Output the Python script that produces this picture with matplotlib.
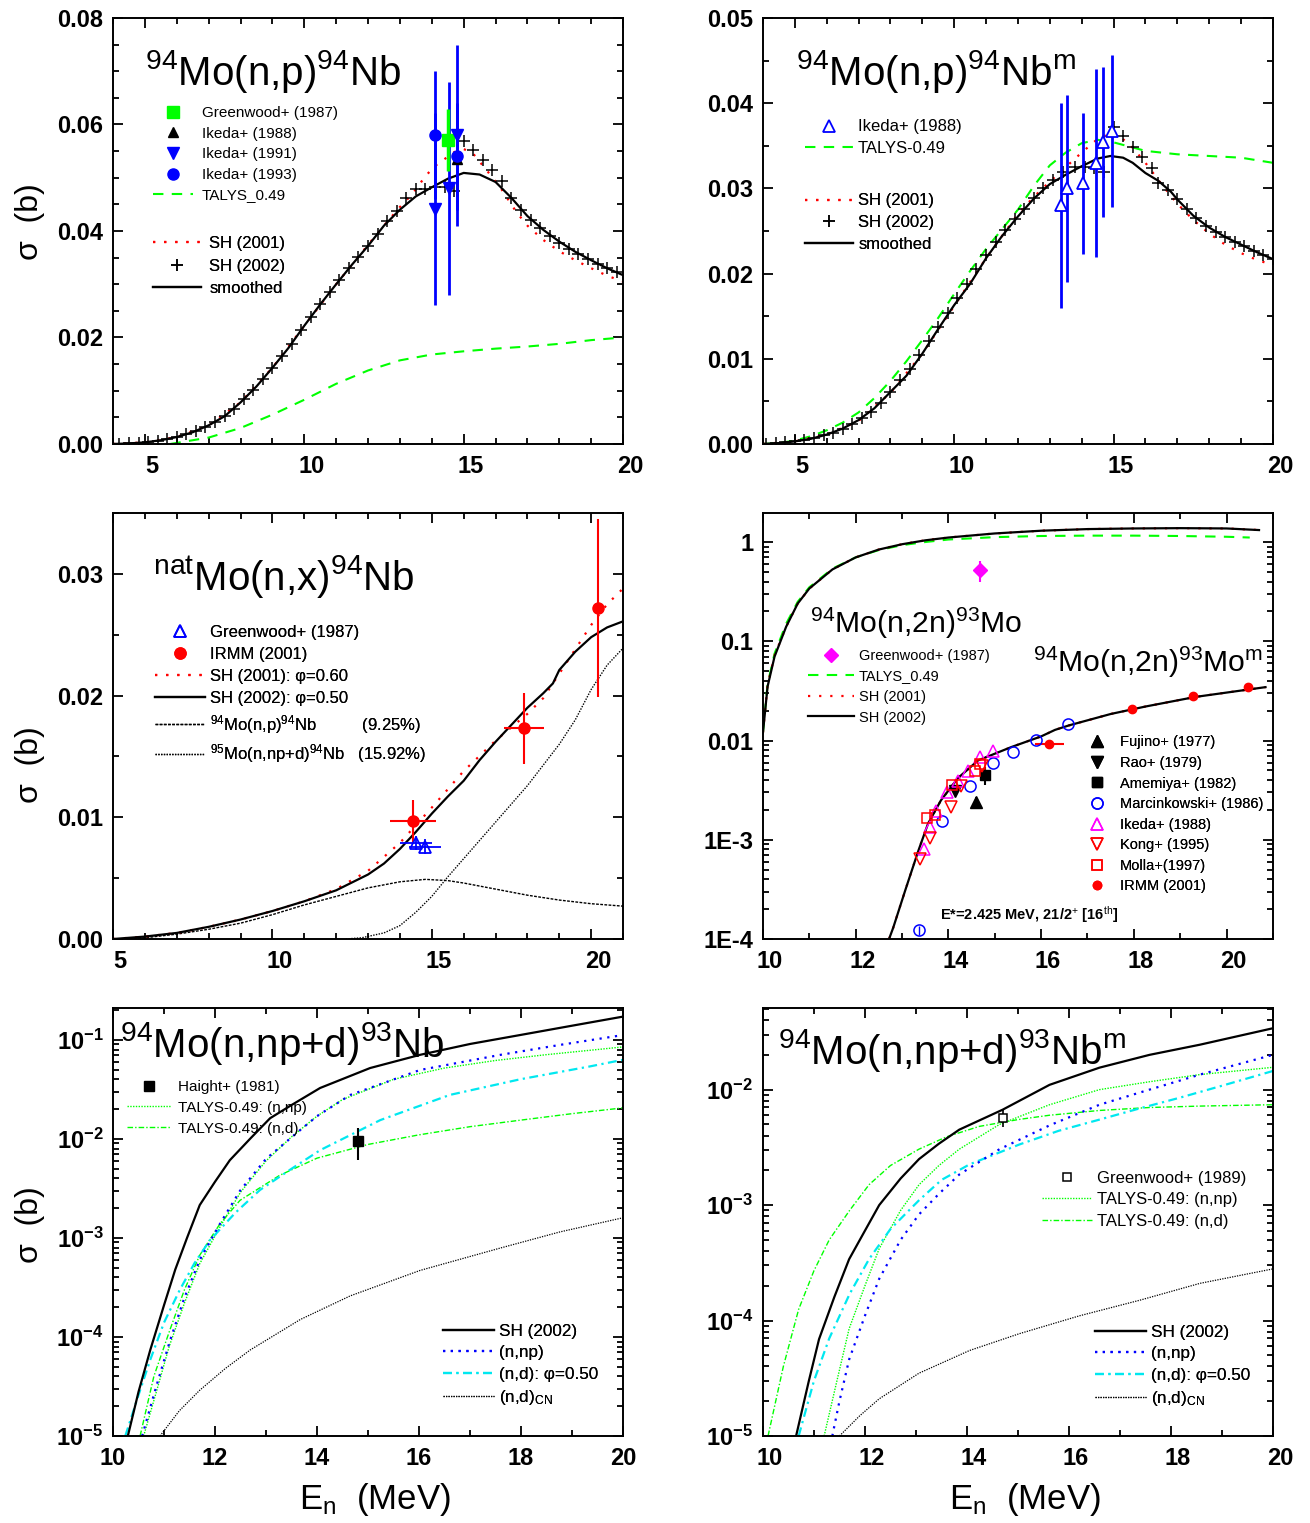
import numpy as np
import matplotlib
matplotlib.use('Agg')
import matplotlib.pyplot as plt
import matplotlib.transforms as mtransforms
from matplotlib.ticker import MultipleLocator, LogLocator, NullFormatter

plt.rcParams['font.family'] = 'Liberation Sans'
plt.rcParams['mathtext.fontset'] = 'custom'
plt.rcParams['mathtext.rm'] = 'Liberation Sans'
plt.rcParams['mathtext.it'] = 'Liberation Sans:italic'
plt.rcParams['mathtext.bf'] = 'Liberation Sans:bold'
plt.rcParams['axes.linewidth'] = 1.4

GREEN = '#00ff00'
BLUE = '#0000ff'
RED = '#ff0000'
MAG = '#ff00ff'
CYAN = '#00e8f0'

# ---------------- data: 94Mo(n,p)94Nb ----------------
tl_smooth_E = [4, 4.5, 5, 5.5, 6, 6.5, 7, 7.5, 8, 8.5, 9, 9.5, 10, 10.5, 11, 11.5, 12, 12.5,
               13, 13.5, 14, 14.5, 15, 15.5, 16, 16.5, 17, 17.5, 18, 18.5, 19, 19.5, 20]
tl_smooth = [0.0, 0.0001, 0.0003, 0.0007, 0.0013, 0.0022, 0.0035, 0.0052, 0.0078, 0.0108, 0.0143,
             0.0180, 0.0222, 0.0262, 0.0300, 0.0337, 0.0372, 0.0410, 0.0440, 0.0465, 0.0482,
             0.0498, 0.0509, 0.0506, 0.0492, 0.0462, 0.0428, 0.0402, 0.0380, 0.0361, 0.0345,
             0.0330, 0.0317]
tl_sh01_E = [4, 5, 6, 7, 8, 9, 10, 11, 12, 12.5, 13, 13.4, 13.8, 14.1, 14.4, 14.7, 15.0, 15.3,
             15.5, 15.7, 15.9, 16.1, 16.3, 16.5, 16.7, 17, 17.5, 18, 18.5, 19, 19.5, 20]
tl_sh01 = [0.0, 0.0003, 0.0013, 0.0035, 0.0078, 0.0143, 0.0222, 0.0300, 0.0374, 0.0410, 0.0445,
           0.0470, 0.0503, 0.0522, 0.0535, 0.0548, 0.0554, 0.0545, 0.0530, 0.0516, 0.0500,
           0.0486, 0.0468, 0.0449, 0.0432, 0.0410, 0.0383, 0.0362, 0.0345, 0.0330, 0.0316, 0.0305]
tl_sh02_E = [4.2, 4.5, 4.8, 5.1, 5.4, 5.7, 6.0, 6.3, 6.6, 6.9, 7.2, 7.5, 7.8, 8.1, 8.4, 8.7, 9.0,
             9.3, 9.6, 9.9, 10.2, 10.5, 10.8, 11.1, 11.4, 11.7, 12.0, 12.3, 12.6, 12.9, 13.2, 13.5,
             13.8, 14.1, 14.4, 14.7, 15.0, 15.3, 15.6, 15.9, 16.2, 16.5, 16.8, 17.1, 17.4, 17.7,
             18.0, 18.3, 18.6, 18.9, 19.2, 19.5, 19.8]
tl_sh02 = [0.0, 0.0001, 0.0002, 0.0003, 0.0006, 0.0009, 0.0013, 0.0018, 0.0024, 0.0032, 0.0041,
           0.0052, 0.0066, 0.0084, 0.0102, 0.0122, 0.0143, 0.0165, 0.0188, 0.0214, 0.0238,
           0.0262, 0.0285, 0.0307, 0.0330, 0.0351, 0.0372, 0.0395, 0.0418, 0.0437, 0.0462,
           0.0479, 0.0479, 0.0483, 0.0483, 0.0475, 0.0569, 0.0552, 0.0533, 0.0515, 0.0494,
           0.0462, 0.0440, 0.0421, 0.0405, 0.0391, 0.0378, 0.0367, 0.0356, 0.0347, 0.0338,
           0.0330, 0.0322]
tl_talys_E = [5.8, 6, 7, 8, 9, 10, 11, 12, 13, 14, 15, 16, 17, 18, 19, 20]
tl_talys = [0.0, 0.0002, 0.0012, 0.0030, 0.0055, 0.0083, 0.0113, 0.0138, 0.0157, 0.0168,
            0.0174, 0.0179, 0.0183, 0.0188, 0.0195, 0.0200]
tl_gw87_E, tl_gw87, tl_gw87_err = [14.5], [0.0571], [0.0058]
tl_ik88_E, tl_ik88 = [14.8], [0.0535]
tl_ik91_E, tl_ik91, tl_ik91_err = [14.1, 14.53, 14.8], [0.0441, 0.0480, 0.0580], [0.018, 0.020, 0.017]
tl_ik93_E, tl_ik93, tl_ik93_err = [14.1, 14.8], [0.0580, 0.0540], [0.012, 0.010]

# ---------------- data: 94Mo(n,p)94Nbm ----------------
tr_smooth_E = [4, 4.5, 5, 5.5, 6, 6.5, 7, 7.5, 8, 8.5, 9, 9.5, 10, 10.5, 11, 11.5, 12, 12.5, 13,
               13.5, 14, 14.5, 14.9, 15.3, 15.6, 16, 16.4, 16.8, 17, 17.5, 18, 18.5, 19, 19.5, 20]
tr_smooth = [0.0, 0.0001, 0.0003, 0.0006, 0.0011, 0.0018, 0.0028, 0.0042, 0.0061, 0.0080, 0.0106,
             0.0135, 0.0163, 0.0188, 0.0218, 0.0244, 0.0267, 0.0288, 0.0305, 0.0316, 0.0326,
             0.0335, 0.0338, 0.0336, 0.0330, 0.0318, 0.0309, 0.0296, 0.0287, 0.0268, 0.0254,
             0.0243, 0.0234, 0.0225, 0.0217]
tr_sh01_E = [4, 5, 6, 7, 8, 9, 10, 11, 12, 12.5, 13, 13.5, 14, 14.5, 15, 15.5, 16, 16.5, 17,
             17.5, 18, 18.5, 19, 19.5, 20]
tr_sh01 = [0.0, 0.0003, 0.0011, 0.0027, 0.0060, 0.0106, 0.0162, 0.0218, 0.0270, 0.0290, 0.0308,
           0.0325, 0.0342, 0.0358, 0.0366, 0.0352, 0.0330, 0.0305, 0.0282, 0.0263, 0.0247,
           0.0234, 0.0224, 0.0216, 0.0210]
tr_sh02_E = [4.1, 4.4, 4.7, 5.0, 5.3, 5.6, 5.9, 6.2, 6.5, 6.8, 7.1, 7.4, 7.7, 8.0, 8.3, 8.6, 8.9,
             9.2, 9.5, 9.8, 10.1, 10.4, 10.7, 11.0, 11.3, 11.6, 11.9, 12.2, 12.5, 12.8, 13.1,
             13.4, 13.8, 14.1, 14.4, 14.7, 15.0, 15.3, 15.6, 15.9, 16.2, 16.4, 16.7, 17.0, 17.3,
             17.6, 17.9, 18.2, 18.5, 18.8, 19.1, 19.4, 19.7, 20.0]
tr_sh02 = [0.0, 0.0001, 0.0002, 0.0003, 0.0005, 0.0007, 0.0010, 0.0013, 0.0018, 0.0024, 0.0030,
           0.0038, 0.0048, 0.0061, 0.0075, 0.0088, 0.0104, 0.0121, 0.0137, 0.0154, 0.0171,
           0.0188, 0.0205, 0.0222, 0.0237, 0.0251, 0.0264, 0.0276, 0.0289, 0.0300, 0.0310,
           0.0319, 0.0325, 0.0325, 0.0324, 0.0319, 0.0372, 0.0361, 0.0349, 0.0337, 0.0324,
           0.0306, 0.0298, 0.0287, 0.0276, 0.0265, 0.0256, 0.0249, 0.0243, 0.0237, 0.0232,
           0.0227, 0.0222, 0.0217]
tr_talys_E = [4, 4.5, 5, 5.5, 6, 6.5, 7, 7.5, 8, 8.5, 9, 9.5, 10, 10.5, 11, 11.5, 12, 12.5, 13,
              13.5, 14, 14.5, 15, 15.5, 16, 17, 18, 19, 20]
tr_talys = [0.0, 0.0001, 0.0004, 0.0009, 0.0016, 0.0025, 0.0037, 0.0054, 0.0074, 0.0097, 0.0122,
            0.0148, 0.0176, 0.0203, 0.0229, 0.0252, 0.0275, 0.0303, 0.0327, 0.0342, 0.0353,
            0.0357, 0.0354, 0.0349, 0.0344, 0.0340, 0.0338, 0.0336, 0.0330]
tr_ik88_E = [13.34, 13.53, 14.03, 14.44, 14.66, 14.94]
tr_ik88 = [0.0280, 0.0300, 0.0306, 0.0330, 0.0354, 0.0367]
tr_ik88_err = [0.0120, 0.0110, 0.0083, 0.0110, 0.0088, 0.0089]

# ---------------- data: natMo(n,x)94Nb ----------------
ml_sh02_E = [5, 6, 7, 8, 9, 10, 11, 12, 13, 13.5, 14, 14.5, 15, 15.5, 16, 16.5, 17, 17.5, 18,
             18.5, 18.8, 19, 19.5, 20, 20.5, 21]
ml_sh02 = [0.0, 0.0002, 0.0005, 0.0010, 0.0016, 0.0023, 0.0031, 0.0040, 0.0053, 0.0062, 0.0074,
           0.0088, 0.0103, 0.0117, 0.0130, 0.0147, 0.0162, 0.0176, 0.0190, 0.0202, 0.0210,
           0.0221, 0.0236, 0.0248, 0.0256, 0.0261]
ml_sh01_E = [5, 6, 7, 8, 9, 10, 11, 12, 13, 14, 15, 16, 17, 18, 18.5, 19, 19.5, 20, 20.5, 21]
ml_sh01 = [0.0, 0.0002, 0.0005, 0.0010, 0.0016, 0.0023, 0.0031, 0.0041, 0.0056, 0.0079, 0.0108,
           0.0138, 0.0163, 0.0185, 0.0198, 0.0218, 0.0238, 0.0258, 0.0275, 0.0288]
ml_np_E = [5, 6, 7, 8, 9, 10, 11, 12, 13, 14, 14.8, 15.5, 16, 17, 18, 19, 20, 21]
ml_np = [0.0, 0.0001, 0.0004, 0.0008, 0.0013, 0.0020, 0.0028, 0.0035, 0.0042, 0.0047, 0.0049,
         0.0048, 0.0046, 0.0041, 0.0036, 0.0032, 0.0029, 0.0027]
ml_npd_E = [12.3, 12.8, 13.5, 14, 14.5, 15, 15.5, 16, 17, 18, 19, 19.5, 20, 20.5, 21]
ml_npd = [0.0, 0.0001, 0.0005, 0.0011, 0.0022, 0.0035, 0.0051, 0.0066, 0.0096, 0.0126, 0.0160,
          0.0180, 0.0205, 0.0225, 0.0239]
ml_gw87_E, ml_gw87 = [14.5, 14.8], [0.0079, 0.0076]
ml_irmm_E, ml_irmm = [14.4, 17.9, 20.2], [0.0097, 0.0173, 0.0272]
ml_irmm_xerr, ml_irmm_yerr = [0.72, 0.63, 0.15], [0.0017, 0.0029, 0.0073]

# ---------------- data: 94Mo(n,2n)93Mo and 93Mom ----------------
mr_tot_E = [10.0, 10.1, 10.25, 10.5, 10.75, 11.0, 11.5, 12, 12.5, 13, 13.5, 14, 15, 16, 17, 18,
            19, 20, 20.7]
mr_tot = [0.012, 0.035, 0.070, 0.14, 0.24, 0.34, 0.53, 0.70, 0.84, 0.95, 1.04, 1.11, 1.22, 1.30,
          1.35, 1.37, 1.38, 1.37, 1.32]
mr_tot01 = [0.012, 0.036, 0.072, 0.14, 0.24, 0.34, 0.53, 0.70, 0.84, 0.95, 1.04, 1.11, 1.22,
            1.30, 1.35, 1.37, 1.38, 1.37, 1.32]
mr_talys_E = [10.0, 10.1, 10.25, 10.5, 10.75, 11, 11.5, 12, 12.5, 13, 13.5, 14, 15, 16, 17, 18,
              19, 20, 20.5]
mr_talys = [0.012, 0.037, 0.075, 0.15, 0.25, 0.35, 0.54, 0.70, 0.83, 0.93, 1.00, 1.06, 1.12,
            1.15, 1.16, 1.16, 1.15, 1.13, 1.11]
mr_iso_E = [12.72, 12.81, 13.07, 13.35, 13.56, 13.84, 14.21, 14.64, 15.36, 16.0, 16.3, 16.6,
            17.5, 18.25, 19.33, 20.84]
mr_iso = [1.0e-4, 1.3e-4, 3.1e-4, 7.7e-4, 1.45e-3, 2.5e-3, 4.2e-3, 6.3e-3, 8.6e-3, 1.1e-2,
          1.28e-2, 1.42e-2, 1.85e-2, 2.2e-2, 2.75e-2, 3.45e-2]
mr_gw87_E, mr_gw87, mr_gw87_err = [14.69], [0.52], [0.12]
fujino_E, fujino, fujino_err = [14.59], [2.4e-3], [0.3e-3]
rao_E, rao = [14.14], [3.1e-3]
amemiya_E, amemiya, amemiya_err = [14.79], [4.5e-3], [0.9e-3]
marc_E = [13.37, 13.87, 14.47, 14.97, 15.39, 15.88, 16.57]
marc = [1.23e-4, 1.53e-3, 3.5e-3, 6.0e-3, 7.7e-3, 1.02e-2, 1.47e-2]
ik88_E = [13.48, 13.60, 13.74, 13.96, 14.21, 14.43, 14.68, 14.97]
ik88 = [8.1e-4, 1.33e-3, 1.96e-3, 3.0e-3, 3.95e-3, 4.98e-3, 6.8e-3, 7.9e-3]
kong_E = [13.38, 13.60, 14.05, 14.27, 14.73]
kong = [6.4e-4, 1.05e-3, 2.15e-3, 3.5e-3, 5.6e-3]
molla_E = [13.54, 13.71, 14.07, 14.57, 14.68]
molla = [1.64e-3, 1.79e-3, 3.6e-3, 4.98e-3, 5.8e-3]
irmm_E, irmm, irmm_xerr = [16.18, 17.97, 19.27, 20.47], [9.3e-3, 2.1e-2, 2.79e-2, 3.5e-2], [0.32, 0.0, 0.0, 0.0]

# ---------------- data: 94Mo(n,np+d)93Nb ----------------
bl_sh_E = [10.29, 10.5, 10.73, 11.0, 11.22, 11.45, 11.7, 12.0, 12.29, 12.7, 13.08, 13.5, 14.06,
           15.04, 16.02, 17.0, 17.98, 18.96, 20.0]
bl_sh = [1e-5, 2.8e-5, 7.4e-5, 2.1e-4, 4.8e-4, 1.0e-3, 2.15e-3, 3.7e-3, 6.1e-3, 1.02e-2, 1.62e-2,
         2.2e-2, 3.27e-2, 5.2e-2, 7.07e-2, 9.1e-2, 0.112, 0.138, 0.172]
bl_np_E = [10.57, 10.85, 11.12, 11.4, 11.7, 12.1, 12.49, 13.0, 13.67, 14.0, 14.65, 16.02, 17.59,
           18.76, 20.0]
bl_np = [1e-5, 3.2e-5, 9.3e-5, 2.5e-4, 6e-4, 1.4e-3, 3e-3, 6.3e-3, 1.23e-2, 1.7e-2, 2.78e-2,
         4.97e-2, 7.06e-2, 8.9e-2, 0.112]
bl_tnp_E = [10.6, 10.85, 11.1, 11.4, 11.7, 12.1, 12.5, 13.0, 13.5, 14.0, 14.5, 15.5, 16.5, 17.5,
            18.5, 19.5, 20.0]
bl_tnp = [1e-5, 2.8e-5, 8e-5, 2.2e-4, 5.5e-4, 1.3e-3, 2.9e-3, 6e-3, 1.05e-2, 1.7e-2, 2.5e-2,
          4.0e-2, 5.2e-2, 6.2e-2, 7.1e-2, 8.0e-2, 8.5e-2]
bl_nd_E = [10.24, 10.5, 10.73, 11.0, 11.31, 11.6, 11.9, 12.4, 12.88, 13.5, 14.06, 15.24, 16.6,
           17.98, 19.35, 20.0]
bl_nd = [1e-5, 2.6e-5, 5.9e-5, 1.4e-4, 3e-4, 5.6e-4, 9.5e-4, 1.8e-3, 3.05e-3, 5e-3, 7.7e-3,
         1.55e-2, 2.78e-2, 4.0e-2, 5.4e-2, 6.3e-2]
bl_tnd_E = [10.53, 10.8, 11.12, 11.4, 11.7, 12.1, 12.49, 13.27, 14.0, 15.0, 16.0, 17.0, 18.0,
            19.0, 20.0]
bl_tnd = [1e-5, 4e-5, 1.2e-4, 3e-4, 6.7e-4, 1.4e-3, 2.4e-3, 4.3e-3, 6.4e-3, 8.8e-3, 1.1e-2,
          1.33e-2, 1.55e-2, 1.8e-2, 2.06e-2]
bl_cn_E = [10.92, 11.3, 11.7, 12.2, 12.69, 13.67, 14.65, 16.02, 17.59, 18.76, 20.0]
bl_cn = [1e-5, 1.8e-5, 2.9e-5, 4.8e-5, 7.4e-5, 1.5e-4, 2.6e-4, 4.7e-4, 7.9e-4, 1.15e-3, 1.6e-3]
haight_E, haight, haight_err = [14.8], [9.5e-3], [3.4e-3]

# ---------------- data: 94Mo(n,np+d)93Nbm ----------------
br_sh_E = [10.65, 10.9, 11.1, 11.4, 11.69, 12.0, 12.28, 12.7, 13.06, 13.45, 13.85, 14.7, 15.62,
           16.6, 17.58, 18.57, 20.0]
br_sh = [1e-5, 3e-5, 6.9e-5, 1.6e-4, 3.4e-4, 6.0e-4, 1.0e-3, 1.7e-3, 2.5e-3, 3.4e-3, 4.5e-3,
         6.7e-3, 1.1e-2, 1.55e-2, 2.0e-2, 2.45e-2, 3.4e-2]
br_np_E = [11.36, 11.5, 11.69, 12.0, 12.28, 12.7, 13.06, 13.45, 13.85, 14.64, 15.62, 16.6, 17.58,
           18.57, 20.0]
br_np = [1e-5, 2e-5, 4.6e-5, 1.1e-4, 2.3e-4, 5.0e-4, 8.3e-4, 1.25e-3, 1.84e-3, 3.05e-3, 4.9e-3,
         7.4e-3, 1.0e-2, 1.35e-2, 2.0e-2]
br_tnp_E = [11.2, 11.45, 11.69, 12.0, 12.28, 12.7, 13.06, 13.45, 13.85, 14.64, 15.62, 16.6,
            17.58, 18.57, 20.0]
br_tnp = [1e-5, 3e-5, 8.5e-5, 2.0e-4, 4.2e-4, 9e-4, 1.5e-3, 2.2e-3, 3.05e-3, 5.0e-3, 7.4e-3,
          1.0e-2, 1.17e-2, 1.35e-2, 1.56e-2]
br_tnd_E = [10.1, 10.4, 10.7, 11.0, 11.3, 11.7, 12.08, 12.5, 13.06, 13.6, 14.24, 15.0, 15.62,
            16.6, 17.58, 18.57, 20.0]
br_tnd = [1e-5, 4e-5, 1.25e-4, 2.7e-4, 5e-4, 9e-4, 1.5e-3, 2.2e-3, 3.05e-3, 3.9e-3, 4.8e-3,
          5.5e-3, 6.0e-3, 6.6e-3, 7.0e-3, 7.2e-3, 7.4e-3]
br_nd_E = [10.7, 11.0, 11.3, 11.7, 12.08, 12.5, 13.06, 13.5, 14.05, 15.03, 15.8, 16.6, 17.4,
           18.17, 19.0, 20.0]
br_nd = [1e-5, 3e-5, 7e-5, 1.7e-4, 3.4e-4, 6.2e-4, 1.1e-3, 1.65e-3, 2.25e-3, 3.35e-3, 4.4e-3,
         5.5e-3, 6.9e-3, 8.5e-3, 1.08e-2, 1.45e-2]
br_cn_E = [11.5, 11.9, 12.28, 13.06, 14.05, 15.03, 16.21, 17.39, 18.57, 20.0]
br_cn = [1e-5, 1.5e-5, 2.1e-5, 3.5e-5, 5.5e-5, 7.7e-5, 1.1e-4, 1.5e-4, 2.1e-4, 2.8e-4]
gw89_E, gw89, gw89_err = [14.7], [5.7e-3], [1.0e-3]


def frame(ax, xlim, xticks, ylim, yticks=None, ylabels=None, log=False, shift=7):
    ax.set_xlim(*xlim)
    ax.set_xticks(xticks, [str(v) for v in xticks], fontweight='bold', fontsize=17)
    ax.xaxis.set_minor_locator(MultipleLocator(1))
    if log:
        ax.set_yscale('log')
        ax.yaxis.set_minor_locator(LogLocator(base=10, subs=np.arange(2, 10)))
        ax.yaxis.set_minor_formatter(NullFormatter())
    ax.set_ylim(*ylim)
    if yticks is not None:
        ax.set_yticks(yticks, ylabels, fontweight='bold', fontsize=17)
    ax.tick_params(which='both', direction='in', top=True, right=True, width=1.3)
    ax.tick_params(axis='x', pad=8)
    ax.tick_params(axis='y', pad=7)
    ax.tick_params(which='major', length=7)
    ax.tick_params(which='minor', length=4)
    # the x labels of the original sit a few pixels right of their ticks
    if shift:
        off = mtransforms.ScaledTranslation(shift / 100, 0, ax.figure.dpi_scale_trans)
        for lab in ax.get_xticklabels():
            lab.set_transform(lab.get_transform() + off)


def legend(ax, handles, x, y, fs=11, hl=2.6, tp=0.6, ls=0.45):
    leg = ax.legend(handles=handles, loc='upper left', bbox_to_anchor=(x, y), frameon=False,
                    fontsize=fs, handlelength=hl, handletextpad=tp, labelspacing=ls,
                    borderpad=0, borderaxespad=0)
    ax.add_artist(leg)
    return leg


fig = plt.figure(figsize=(13.1, 15.23), dpi=100)
L, R, W = 0.0863, 0.5824, 0.3893

# ---- 94Mo(n,p)94Nb ----
ax = fig.add_axes([L, 0.7085, W, 0.2797])
h_talys, = ax.plot(tl_talys_E, tl_talys, color=GREEN, lw=1.5, ls=(0, (5, 4)), label='TALYS_0.49')
h_sh01, = ax.plot(tl_sh01_E, tl_sh01, color=RED, lw=1.6, ls=(0, (1, 4)), label='SH (2001)')
h_sh02, = ax.plot(tl_sh02_E, tl_sh02, 'k+', ms=8, mew=1.1, label='SH (2002)')
h_sm, = ax.plot(tl_smooth_E, tl_smooth, 'k-', lw=1.6, label='smoothed')
ax.errorbar(tl_ik91_E, tl_ik91, yerr=tl_ik91_err, fmt='none', ecolor=BLUE, elinewidth=2)
ax.errorbar(tl_ik93_E, tl_ik93, yerr=tl_ik93_err, fmt='none', ecolor=BLUE, elinewidth=2)
ax.errorbar(tl_gw87_E, tl_gw87, yerr=tl_gw87_err, fmt='none', ecolor=GREEN, elinewidth=2.5)
h1, = ax.plot(tl_gw87_E, tl_gw87, 's', color=GREEN, ms=8, label='Greenwood+ (1987)')
h2, = ax.plot(tl_ik88_E, tl_ik88, '^', color='k', ms=7, label='Ikeda+ (1988)')
h3, = ax.plot(tl_ik91_E, tl_ik91, 'v', color=BLUE, ms=8, label='Ikeda+ (1991)')
h4, = ax.plot(tl_ik93_E, tl_ik93, 'o', color=BLUE, ms=8, label='Ikeda+ (1993)')
frame(ax, (4, 20), [5, 10, 15, 20], (0, 0.08), [0, 0.02, 0.04, 0.06, 0.08],
      ['0.00', '0.02', '0.04', '0.06', '0.08'])
ax.yaxis.set_minor_locator(MultipleLocator(0.005))
legend(ax, [h1, h2, h3, h4, h_talys], 0.078, 0.793, ls=0.43)
legend(ax, [h_sh01, h_sh02, h_sm], 0.078, 0.488, fs=12, hl=2.9, tp=0.5, ls=0.45)
ax.text(0.063, 0.843, r'$^{94}$Mo(n,p)$^{94}$Nb', transform=ax.transAxes, fontsize=29,
        va='baseline')

# ---- 94Mo(n,p)94Nbm ----
ax = fig.add_axes([R, 0.7085, W, 0.2797])
h_talys, = ax.plot(tr_talys_E, tr_talys, color=GREEN, lw=1.5, ls=(0, (5, 4)), label='TALYS-0.49')
h_sh01, = ax.plot(tr_sh01_E, tr_sh01, color=RED, lw=1.6, ls=(0, (1, 4)), label='SH (2001)')
h_sh02, = ax.plot(tr_sh02_E, tr_sh02, 'k+', ms=8, mew=1.1, label='SH (2002)')
h_sm, = ax.plot(tr_smooth_E, tr_smooth, 'k-', lw=1.6, label='smoothed')
ax.errorbar(tr_ik88_E, tr_ik88, yerr=tr_ik88_err, fmt='none', ecolor=BLUE, elinewidth=2)
h1, = ax.plot(tr_ik88_E, tr_ik88, '^', mfc='white', mec=BLUE, mew=1.3, ms=9, label='Ikeda+ (1988)')
frame(ax, (4, 20), [5, 10, 15, 20], (0, 0.05), [0, 0.01, 0.02, 0.03, 0.04, 0.05],
      ['0.00', '0.01', '0.02', '0.03', '0.04', '0.05'])
ax.yaxis.set_minor_locator(MultipleLocator(0.005))
legend(ax, [h1, h_talys], 0.082, 0.762, fs=12, hl=2.9, tp=0.3, ls=0.4)
legend(ax, [h_sh01, h_sh02, h_sm], 0.082, 0.588, fs=12, hl=2.9, tp=0.3, ls=0.4)
ax.text(0.065, 0.843, r'$^{94}$Mo(n,p)$^{94}$Nb$^{\rm m}$', transform=ax.transAxes,
        fontsize=29, va='baseline')

# ---- natMo(n,x)94Nb ----
ax = fig.add_axes([L, 0.38345, W, 0.2797])
h5, = ax.plot(ml_np_E, ml_np, color='k', lw=1.0, ls=(0, (2, 1)),
              label=r'$^{94}$Mo(n,p)$^{94}$Nb          (9.25%)')
h6, = ax.plot(ml_npd_E, ml_npd, color='k', lw=1.0, ls=(0, (1, 1)),
              label=r'$^{95}$Mo(n,np+d)$^{94}$Nb   (15.92%)')
h3, = ax.plot(ml_sh01_E, ml_sh01, color=RED, lw=1.6, ls=(0, (1, 4)), label='SH (2001): φ=0.60')
h4, = ax.plot(ml_sh02_E, ml_sh02, 'k-', lw=1.6, label='SH (2002): φ=0.50')
ax.errorbar(ml_gw87_E, ml_gw87, xerr=0.5, yerr=0.0006, fmt='none', ecolor=BLUE, elinewidth=1.3)
ax.errorbar(ml_irmm_E, ml_irmm, xerr=ml_irmm_xerr, yerr=ml_irmm_yerr, fmt='none', ecolor=RED,
            elinewidth=1.5)
h1, = ax.plot(ml_gw87_E, ml_gw87, '^', mfc='none', mec=BLUE, mew=1.3, ms=9, label='Greenwood+ (1987)')
h2, = ax.plot(ml_irmm_E, ml_irmm, 'o', color=RED, ms=8, label='IRMM (2001)')
frame(ax, (5, 21), [5, 10, 15, 20], (0, 0.035), [0, 0.01, 0.02, 0.03],
      ['0.00', '0.01', '0.02', '0.03'])
ax.yaxis.set_minor_locator(MultipleLocator(0.005))
legend(ax, [h1, h2, h3, h4, h5, h6], 0.082, 0.738, fs=12, hl=3.0, tp=0.3, ls=0.42)
ax.text(0.078, 0.819, r'$^{\rm nat}$Mo(n,x)$^{94}$Nb', transform=ax.transAxes, fontsize=29,
        va='baseline')

# ---- 94Mo(n,2n)93Mo ----
ax = fig.add_axes([R, 0.38345, W, 0.2797])
h_talys, = ax.plot(mr_talys_E, mr_talys, color=GREEN, lw=1.5, ls=(0, (5, 4)), label='TALYS_0.49')
h_sh01, = ax.plot(mr_tot_E, mr_tot01, color=RED, lw=1.6, ls=(0, (1, 4)), label='SH (2001)')
h_sh02, = ax.plot(mr_tot_E, mr_tot, 'k-', lw=1.6, label='SH (2002)')
ax.plot(mr_iso_E, mr_iso, color=RED, lw=1.6, ls=(0, (1, 4)))
ax.plot(mr_iso_E, mr_iso, 'k-', lw=1.6)
ax.errorbar(mr_gw87_E, mr_gw87, yerr=mr_gw87_err, fmt='none', ecolor=MAG, elinewidth=1.5)
hg, = ax.plot(mr_gw87_E, mr_gw87, 'D', color=MAG, ms=7, label='Greenwood+ (1987)')
ax.errorbar(fujino_E, fujino, yerr=fujino_err, fmt='none', ecolor='k', elinewidth=1.2)
ax.errorbar(amemiya_E, amemiya, yerr=amemiya_err, fmt='none', ecolor='k', elinewidth=1.5)
ax.errorbar(irmm_E, irmm, xerr=irmm_xerr, fmt='none', ecolor=RED, elinewidth=1.5)
ax.errorbar([marc_E[0]], [marc[0]], yerr=[1.2e-5], fmt='none', ecolor=BLUE, elinewidth=1)
e1, = ax.plot(fujino_E, fujino, '^', color='k', ms=8, label='Fujino+ (1977)')
e2, = ax.plot(rao_E, rao, 'v', color='k', ms=8, label='Rao+ (1979)')
e3, = ax.plot(amemiya_E, amemiya, 's', color='k', ms=7, label='Amemiya+ (1982)')
e4, = ax.plot(marc_E, marc, 'o', mfc='none', mec=BLUE, mew=1.1, ms=8, label='Marcinkowski+ (1986)')
e5, = ax.plot(ik88_E, ik88, '^', mfc='none', mec=MAG, mew=1.1, ms=8, label='Ikeda+ (1988)')
e6, = ax.plot(kong_E, kong, 'v', mfc='none', mec=RED, mew=1.1, ms=8, label='Kong+ (1995)')
e7, = ax.plot(molla_E, molla, 's', mfc='none', mec=RED, mew=1.1, ms=7, label='Molla+(1997)')
e8, = ax.plot(irmm_E, irmm, 'o', color=RED, ms=6, label='IRMM (2001)')
frame(ax, (10, 21), [10, 12, 14, 16, 18, 20], (1e-4, 1.96), [1e-4, 1e-3, 1e-2, 0.1, 1],
      ['1E-4', '1E-3', '0.01', '0.1', '1'], log=True)
legend(ax, [hg, h_talys, h_sh01, h_sh02], 0.088, 0.681, fs=10.5, hl=3.2, tp=0.3, ls=0.45)
legend(ax, [e1, e2, e3, e4, e5, e6, e7, e8], 0.637, 0.478, fs=10.5, hl=1.2, tp=1.0, ls=0.45)
ax.text(0.092, 0.718, r'$^{94}$Mo(n,2n)$^{93}$Mo', transform=ax.transAxes, fontsize=21.7,
        va='baseline')
ax.text(0.529, 0.627, r'$^{94}$Mo(n,2n)$^{93}$Mo$^{\rm m}$', transform=ax.transAxes,
        fontsize=21.7, va='baseline')
ax.text(0.347, 0.045, 'E*=2.425 MeV, 21/2$^{+}$ [16$^{\\rm th}$]', transform=ax.transAxes,
        fontsize=10.5, fontweight='bold', va='baseline')

log_labels = [r'$\mathbf{10^{-5}}$', r'$\mathbf{10^{-4}}$', r'$\mathbf{10^{-3}}$',
              r'$\mathbf{10^{-2}}$', r'$\mathbf{10^{-1}}$']
log_ticks = [1e-5, 1e-4, 1e-3, 1e-2, 1e-1]

# ---- 94Mo(n,np+d)93Nb ----
ax = fig.add_axes([L, 0.05712, W, 0.28102])
t1, = ax.plot(bl_tnp_E, bl_tnp, color=GREEN, lw=1.0, ls=(0, (1, 1)), label='TALYS-0.49: (n,np)')
t2, = ax.plot(bl_tnd_E, bl_tnd, color=GREEN, lw=1.0, ls=(0, (4, 1.5, 1, 1.5)),
              label='TALYS-0.49: (n,d)')
s4, = ax.plot(bl_cn_E, bl_cn, color='k', lw=0.9, ls=(0, (1, 1)), label='(n,d)$_{\\rm CN}$')
s3, = ax.plot(bl_nd_E, bl_nd, color=CYAN, lw=1.6, ls=(0, (4, 2, 1, 2)), label='(n,d): φ=0.50')
s2, = ax.plot(bl_np_E, bl_np, color=BLUE, lw=1.6, ls=(0, (1, 2.5)), label='(n,np)')
s1, = ax.plot(bl_sh_E, bl_sh, 'k-', lw=1.6, label='SH (2002)')
ax.errorbar(haight_E, haight, yerr=haight_err, fmt='none', ecolor='k', elinewidth=1.5)
hh, = ax.plot(haight_E, haight, 's', color='k', ms=7, label='Haight+ (1981)')
frame(ax, (10, 20), [10, 12, 14, 16, 18, 20], (1e-5, 0.21), log_ticks, log_labels, log=True,
      shift=0)
legend(ax, [hh, t1, t2], 0.027, 0.832, hl=2.9, tp=0.45, ls=0.45)
legend(ax, [s1, s2, s3, s4], 0.647, 0.262, fs=12.3, hl=3.0, tp=0.3, ls=0.38)
ax.text(0.014, 0.886, r'$^{94}$Mo(n,np+d)$^{93}$Nb', transform=ax.transAxes, fontsize=29,
        va='baseline')

# ---- 94Mo(n,np+d)93Nbm ----
ax = fig.add_axes([R, 0.05712, W, 0.28102])
t1, = ax.plot(br_tnp_E, br_tnp, color=GREEN, lw=1.0, ls=(0, (1, 1)), label='TALYS-0.49: (n,np)')
t2, = ax.plot(br_tnd_E, br_tnd, color=GREEN, lw=1.0, ls=(0, (4, 1.5, 1, 1.5)),
              label='TALYS-0.49: (n,d)')
s4, = ax.plot(br_cn_E, br_cn, color='k', lw=0.9, ls=(0, (1, 1)), label='(n,d)$_{\\rm CN}$')
s3, = ax.plot(br_nd_E, br_nd, color=CYAN, lw=1.6, ls=(0, (4, 2, 1, 2)), label='(n,d): φ=0.50')
s2, = ax.plot(br_np_E, br_np, color=BLUE, lw=1.6, ls=(0, (1, 2.5)), label='(n,np)')
s1, = ax.plot(br_sh_E, br_sh, 'k-', lw=1.6, label='SH (2002)')
ax.errorbar(gw89_E, gw89, yerr=gw89_err, fmt='none', ecolor='k', elinewidth=1.2)
hgw, = ax.plot(gw89_E, gw89, 's', mfc='white', mec='k', mew=1.1, ms=6, label='Greenwood+ (1989)')
frame(ax, (10, 20), [10, 12, 14, 16, 18, 20], (1e-5, 0.0509), log_ticks[:4], log_labels[:4],
      log=True)
legend(ax, [hgw, t1, t2], 0.547, 0.620, fs=12, hl=3.0, tp=0.3, ls=0.4)
legend(ax, [s1, s2, s3, s4], 0.651, 0.260, fs=12.3, hl=3.0, tp=0.3, ls=0.38)
ax.text(0.029, 0.869, r'$^{94}$Mo(n,np+d)$^{93}$Nb$^{\rm m}$', transform=ax.transAxes,
        fontsize=29, va='baseline')

# axis titles
for yc in [222, 765, 1225]:
    fig.text(30 / 1310, 1 - yc / 1523, 'σ  (b)', rotation=90, fontsize=23, ha='center', va='center')
for xc in [375, 1025]:
    fig.text(xc / 1310, 1 - 1500 / 1523, 'E$_{\\rm n}$  (MeV)', fontsize=25, ha='center',
             va='center')

fig.savefig('out.png', dpi=100)
plt.close()
